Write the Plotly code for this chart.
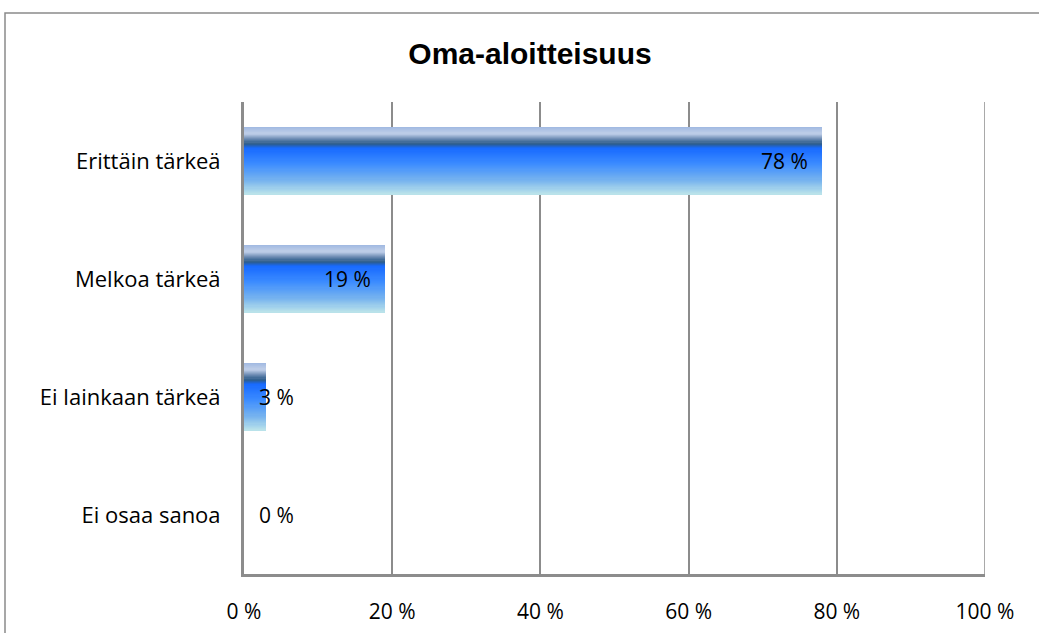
import plotly.graph_objects as go

# Survey results: "Oma-aloitteisuus"
categories = ["Erittäin tärkeä", "Melkoa tärkeä", "Ei lainkaan tärkeä", "Ei osaa sanoa"]
values = [78, 19, 3, 0]
tick_vals = [0, 20, 40, 60, 80, 100]
tick_text = ["0 %", "20 %", "40 %", "60 %", "80 %", "100 %"]
title_text = "Oma-aloitteisuus"

W, H = 1039, 633
ML, MR, MT, MB = 244, 54, 102, 59
BAR_W = 0.57

# vertical gradient of the bars (top -> bottom)
grad_pos = [0.0, 0.10, 0.18, 0.25, 0.32, 0.55, 0.80, 1.0]
grad_col = [(160, 184, 225), (190, 206, 232), (110, 140, 180), (44, 92, 138),
            (24, 106, 255), (60, 140, 255), (120, 180, 238), (188, 228, 234)]


def grad_color(t):
    for i in range(len(grad_pos) - 1):
        if grad_pos[i] <= t <= grad_pos[i + 1]:
            f = (t - grad_pos[i]) / (grad_pos[i + 1] - grad_pos[i])
            c = [round(a + (b - a) * f) for a, b in zip(grad_col[i], grad_col[i + 1])]
            return f"rgb({c[0]},{c[1]},{c[2]})"
    c = grad_col[-1]
    return f"rgb({c[0]},{c[1]},{c[2]})"


fig = go.Figure()

# each bar is built from thin horizontal stripes to render the gradient
N = 60
step = BAR_W / N
for i in range(N):
    t = (i + 0.5) / N
    fig.add_trace(go.Bar(
        orientation="h",
        x=values,
        y=categories,
        width=step * 1.6,
        offset=-BAR_W / 2 + i * step,
        marker=dict(color=grad_color(t), line=dict(width=0)),
        hoverinfo="skip",
        showlegend=False,
    ))

BODY_FONT = "Open Sans, Noto Sans, sans-serif"

# value labels
label_font = dict(family=BODY_FONT, size=21, color="#000000")
for cat, v in zip(categories, values):
    if v >= 10:
        fig.add_annotation(x=v, y=cat, text=f"{v} %", showarrow=False,
                           xanchor="right", xshift=-12, font=label_font)
    else:
        fig.add_annotation(x=0, y=cat, text=f"{v} %", showarrow=False,
                           xanchor="left", xshift=13, font=label_font)

px_x = lambda p: (p - ML) / (W - ML - MR)
px_y = lambda p: 1 - (p - MT) / (H - MT - MB)

# 100 % gridline at the right end of the axis
fig.add_shape(type="line", xref="x", yref="paper", x0=100, x1=100, y0=0, y1=1,
              line=dict(color="#8c8c8c", width=1.5), layer="below")

# chart frame (runs off the right and bottom edges)
fig.add_shape(type="rect", xref="paper", yref="paper",
              x0=px_x(5), x1=px_x(1050), y0=px_y(650), y1=px_y(13),
              line=dict(color="#8a8a8a", width=1.5), fillcolor="rgba(0,0,0,0)", layer="below")

grid_col = "#8c8c8c"
fig.update_layout(
    width=W, height=H,
    margin=dict(l=ML, r=MR, t=MT, b=MB),
    paper_bgcolor="white", plot_bgcolor="white",
    barmode="overlay",
    bargap=0,
    title=dict(text=f"<b>{title_text}</b>", x=530 / W, xanchor="center",
               y=1 - 53 / H, yanchor="middle",
               font=dict(family="Liberation Sans, Arial, sans-serif", size=30, color="#000000")),
    xaxis=dict(range=[0, 100], tickvals=tick_vals, ticktext=tick_text,
               showgrid=True, gridcolor=grid_col, gridwidth=1.5,
               showline=True, linecolor=grid_col, linewidth=3,
               ticks="", zeroline=False, ticklabelstandoff=17, automargin=False,
               tickfont=dict(family=BODY_FONT, size=21, color="#000000")),
    yaxis=dict(autorange="reversed", showgrid=False, showline=True, linecolor=grid_col,
               linewidth=3, ticks="", ticklabelstandoff=16, automargin=False,
               tickfont=dict(family=BODY_FONT, size=22, color="#000000")),
)

fig.write_html("out.html")
